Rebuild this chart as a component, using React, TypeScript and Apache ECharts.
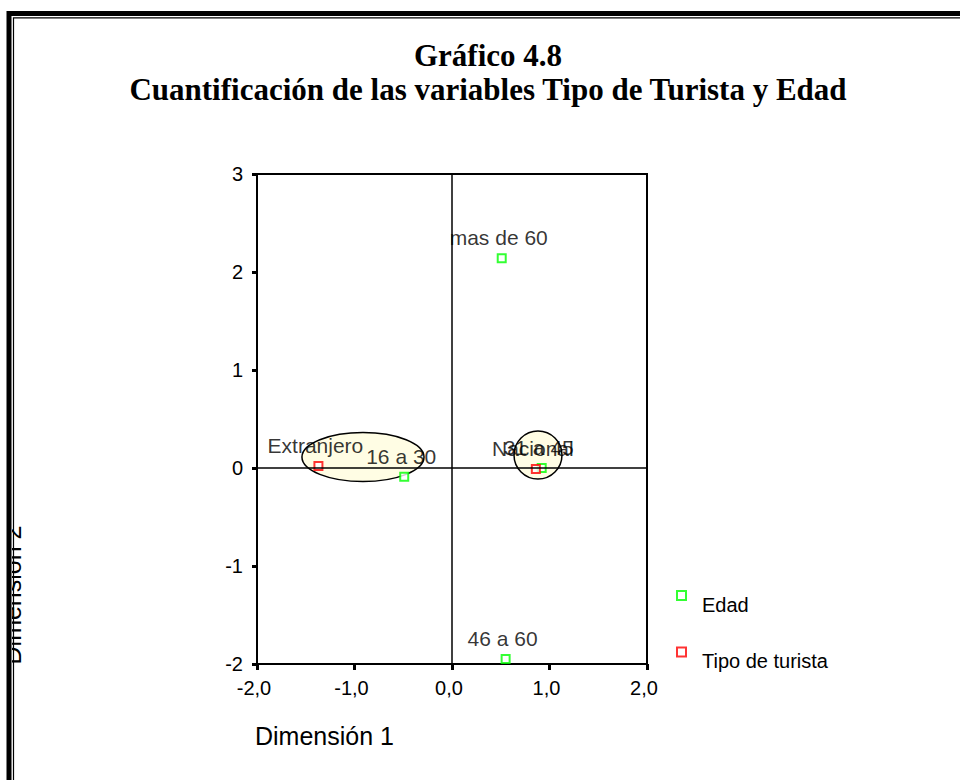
import React, { useEffect, useRef } from "react";
import * as echarts from "echarts";

const titleLines = ["Gráfico 4.8", "Cuantificación de las variables Tipo de Turista y Edad"];
const xTicks = [-2, -1, 0, 1, 2];
const yTicks = [-2, -1, 0, 1, 2, 3];
const edadNames = ["mas de 60", "16 a 30", "31 a 45", "46 a 60"];
const edadX = [0.51, -0.49, 0.92, 0.55];
const edadY = [2.14, -0.09, 0.0, -1.95];
const tipoNames = ["Extranjero", "Nacional"];
const tipoX = [-1.37, 0.86];
const tipoY = [0.02, -0.01];
// ellipse groups: center x, center y, radius x, radius y (data units)
const groupCx = [-0.913, 0.882];
const groupCy = [0.112, 0.133];
const groupRx = [0.626, 0.246];
const groupRy = [0.25, 0.245];

const SANS = "'Liberation Sans', Arial, sans-serif";
const SERIF = "'Liberation Serif', 'Times New Roman', serif";

export default function App() {
  const ref = useRef<HTMLDivElement>(null);
  useEffect(() => {
    const chart = echarts.init(ref.current!, undefined, { renderer: "svg" });
    const fmt = (v: number) => v.toFixed(1).replace(".", ",");
    const mk = (names: string[], xs: number[], ys: number[]) =>
      names.map((n, i) => ({ name: n, value: [xs[i], ys[i]] }));
    const pointLabel = {
      show: true,
      position: "top",
      distance: 5,
      offset: [-3, 0],
      formatter: "{b}",
      color: "#000",
      fontFamily: SANS,
      fontSize: 21,
    };
    chart.setOption({
      animation: false,
      backgroundColor: "#fff",
      title: {
        text: titleLines.join("\n"),
        left: 488,
        top: 38,
        textAlign: "center",
        padding: 0,
        textStyle: {
          fontFamily: SERIF,
          fontWeight: "bold",
          fontSize: 31,
          lineHeight: 34,
          color: "#000",
        },
      },
      grid: {
        left: 257,
        right: 313,
        top: 174,
        bottom: 116,
        show: true,
        borderColor: "#000",
        borderWidth: 2,
      },
      xAxis: {
        type: "value",
        min: xTicks[0],
        max: xTicks[xTicks.length - 1],
        interval: 1,
        splitLine: { show: false },
        axisLine: { show: true, onZero: false, lineStyle: { color: "#000", width: 2 } },
        axisTick: { show: true, length: 6, lineStyle: { color: "#000", width: 3 } },
        axisLabel: {
          color: "#000",
          fontFamily: SANS,
          fontSize: 20,
          margin: 14,
          padding: [0, 6, 0, 0],
          formatter: fmt,
        },
      },
      yAxis: {
        type: "value",
        min: yTicks[0],
        max: yTicks[yTicks.length - 1],
        interval: 1,
        splitLine: { show: false },
        axisLine: { show: true, onZero: false, lineStyle: { color: "#000", width: 2 } },
        axisTick: { show: true, length: 5, lineStyle: { color: "#000", width: 3 } },
        axisLabel: { color: "#000", fontFamily: SANS, fontSize: 20, margin: 14 },
      },
      legend: {
        data: ["Edad", "Tipo de turista"],
        orient: "vertical",
        left: 671,
        top: 585,
        itemWidth: 9,
        itemHeight: 9,
        itemGap: 32,
        selectedMode: false,
        formatter: (name: string) => `{t|${name}}`,
        textStyle: {
          color: "#000",
          fontFamily: SANS,
          fontSize: 20,
          rich: {
            t: { color: "#000", fontFamily: SANS, fontSize: 20, padding: [18, 0, 0, 11] },
          },
        },
      },
      series: [
        {
          type: "custom",
          name: "grupos",
          z: 1,
          silent: true,
          encode: { x: 0, y: 1 },
          data: groupCx.map((c, i) => [c, groupCy[i], groupRx[i], groupRy[i]]),
          renderItem: (params: any, api: any) => {
            const c = api.coord([api.value(0), api.value(1)]);
            const s = api.size([api.value(2), api.value(3)]);
            return {
              type: "ellipse",
              shape: { cx: c[0], cy: c[1], rx: s[0], ry: s[1] },
              style: { fill: "#FFFDE4", stroke: "#000", lineWidth: 1.5 },
            };
          },
        },
        {
          type: "scatter",
          name: "Edad",
          z: 3,
          symbol: "rect",
          symbolSize: 8,
          itemStyle: { color: "#fff", borderColor: "#00FF00", borderWidth: 2 },
          label: pointLabel,
          data: mk(edadNames, edadX, edadY),
          markLine: {
            silent: true,
            symbol: ["none", "none"],
            label: { show: false },
            lineStyle: { color: "#000", type: "solid", width: 1.5 },
            data: [{ xAxis: 0 }, { yAxis: 0 }],
          },
        },
        {
          type: "scatter",
          name: "Tipo de turista",
          z: 4,
          symbol: "rect",
          symbolSize: 8,
          itemStyle: { color: "#fff", borderColor: "#FF0000", borderWidth: 2 },
          label: pointLabel,
          data: mk(tipoNames, tipoX, tipoY),
        },
      ],
      graphic: [
        {
          type: "text",
          z: 10,
          x: 12,
          y: 595,
          rotation: Math.PI / 2,
          style: {
            text: "Dimensión 2",
            fill: "#000",
            font: `25px ${SANS}`,
            align: "center",
            verticalAlign: "middle",
          },
        },
        {
          type: "rect",
          z: 11,
          shape: { x: 0, y: 0, width: 12, height: 780 },
          style: { fill: "#fff" },
        },
        {
          type: "rect",
          z: 11,
          shape: { x: 0, y: 0, width: 960, height: 12 },
          style: { fill: "#fff" },
        },
        {
          type: "rect",
          z: 12,
          shape: { x: 9, y: 13.5, width: 1000, height: 1000 },
          style: { fill: "none", stroke: "#000", lineWidth: 5 },
        },
        {
          type: "rect",
          z: 12,
          shape: { x: 13.5, y: 17.8, width: 1000, height: 1000 },
          style: { fill: "none", stroke: "#000", lineWidth: 1.2 },
        },
        {
          type: "text",
          z: 10,
          x: 255,
          y: 736,
          style: {
            text: "Dimensión 1",
            fill: "#000",
            font: `25px ${SANS}`,
            align: "left",
            verticalAlign: "middle",
          },
        },
      ],
    });
    return () => chart.dispose();
  }, []);
  return (
    <div
      ref={ref}
      style={{ position: "absolute", left: 0, top: 0, width: 960, height: 780 }}
    />
  );
}
